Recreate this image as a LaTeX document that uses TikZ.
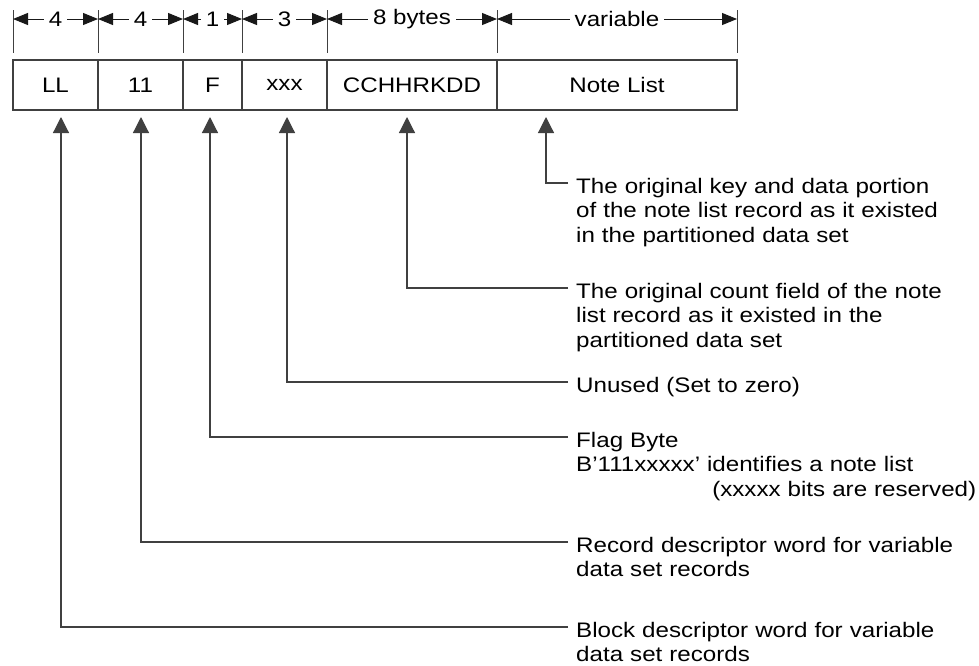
\documentclass[tikz,border=0pt]{standalone}
\usepackage{fontspec}
\setmainfont{Liberation Sans}[FakeStretch=1.15]
\usetikzlibrary{arrows.meta}
\begin{document}
\begin{tikzpicture}[x=1pt,y=-1pt,
  every node/.style={font=\fontsize{21}{24.7}\selectfont, text=black},
  field/.style={draw=black!75, line width=1.1pt, minimum height=50, inner sep=0, anchor=center},
  tick/.style={draw=black!75, line width=1pt},
  dim/.style={draw=black!90, line width=1pt, {Triangle[length=15pt,width=12pt]}-{Triangle[length=15pt,width=12pt]}},
  dimlbl/.style={fill=white, inner xsep=5, inner ysep=1},
  uparr/.style={draw=black!75, line width=1.2pt, -{Triangle[length=16pt,width=16pt]}},
  desc/.style={anchor=base west, text width=400, align=left, inner sep=0}]
\useasboundingbox (0,0) rectangle (979,665);
% fields
\node[field, minimum width=85] (fLL) at (55.5,85) {LL};
\node[field, minimum width=85] (f11) at (140.5,85) {11};
\node[field, minimum width=59] (fF) at (212.5,85) {F};
\node[field, minimum width=85] (fX) at (284.5,85) {xxx};
\node[field, minimum width=170] (fC) at (412,85) {CCHHRKDD};
\node[field, minimum width=240] (fN) at (617,85) {Note List};
% ticks
\foreach \x in {13,98,183,242,327,497,737} \draw[tick] (\x,10) -- (\x,53);
% dimension arrows
\coordinate (b0) at (13,19);
\coordinate (b1) at (98,19);
\coordinate (b2) at (183,19);
\coordinate (b3) at (242,19);
\coordinate (b4) at (327,19);
\coordinate (b5) at (497,19);
\coordinate (b6) at (737,19);
\draw[dim] (b0) -- (b1) node[midway, dimlbl] (l1) {4};
\draw[dim] (b1) -- (b2) node[midway, dimlbl] (l2) {4};
\draw[dim] (b2) -- (b3) node[midway, dimlbl] (l3) {1};
\draw[dim] (b3) -- (b4) node[midway, dimlbl] (l4) {3};
\draw[dim] (b4) -- (b5) node[midway, dimlbl] (l5) {8 bytes};
\draw[dim] (b5) -- (b6) node[midway, dimlbl] (l6) {variable};
% arrow tips
\coordinate (aLL) at (61,117);
\coordinate (a11) at (141,117);
\coordinate (aF) at (210,117);
\coordinate (aX) at (287,117);
\coordinate (aC) at (407,117);
\coordinate (aN) at (546,117);
% descriptions
\node[desc] (dN) at (576,193) {The original key and data portion\\of the note list record as it existed\\in the partitioned data set};
\node[desc] (dC) at (576,298) {The original count field of the note\\list record as it existed in the\\partitioned data set};
\node[desc] (dX) at (576,392) {Unused (Set to zero)};
\node[desc] (dF) at (576,447) {Flag Byte\\B’111xxxxx’ identifies a note list\\\mbox{}\hfill(xxxxx bits are reserved)};
\node[desc] (d11) at (576,552) {Record descriptor word for variable\\data set records};
\node[desc] (dLL) at (576,637) {Block descriptor word for variable\\data set records};
% connectors
\draw[uparr] ([shift={(-8,-10)}]dN.base west) -| (aN);
\draw[uparr] ([shift={(-8,-10)}]dC.base west) -| (aC);
\draw[uparr] ([shift={(-8,-10)}]dX.base west) -| (aX);
\draw[uparr] ([shift={(-8,-10)}]dF.base west) -| (aF);
\draw[uparr] ([shift={(-8,-10)}]d11.base west) -| (a11);
\draw[uparr] ([shift={(-8,-10)}]dLL.base west) -| (aLL);
\end{tikzpicture}
\end{document}
